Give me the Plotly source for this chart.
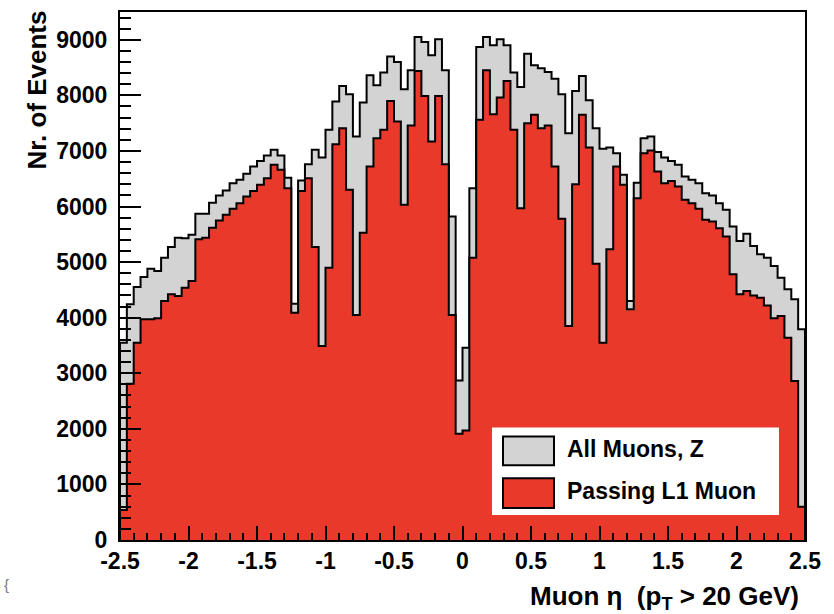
import numpy as np
import plotly.graph_objects as go

# Binning of the eta histogram
ETA_MIN, ETA_MAX, N_BINS = -2.5, 2.5, 100

# Events per bin: all reconstructed muons from Z decays
all_muons = [
    3550, 4240, 4550, 4730, 4880, 4840, 5080, 5270, 5440, 5430,
    5490, 5870, 5870, 6070, 6200, 6290, 6420, 6480, 6590, 6720,
    6820, 6920, 7020, 6920, 6520, 4250, 6470, 6760, 7020, 6880,
    7380, 7890, 8170, 8020, 7260, 7870, 8360, 8180, 8410, 8700,
    8600, 8110, 8450, 9050, 8960, 8720, 9010, 8450, 5820, 2870,
    3460, 6330, 8870, 9050, 8900, 9010, 8900, 8410, 8150, 8750,
    8540, 8490, 8420, 8300, 8020, 7320, 8080, 8350, 7910, 7410,
    7040, 7060, 6960, 6570, 4300, 6430, 7230, 7260, 6980, 6880,
    6820, 6750, 6540, 6480, 6420, 6240, 6200, 6060, 5940, 5640,
    5380, 5510, 5290, 5140, 5080, 4930, 4720, 4510, 4330, 3790,
]

# Events per bin: muons that also pass the L1 muon trigger
passing_l1 = [
    540, 2810, 3550, 3970, 3970, 3990, 4300, 4420, 4390, 4540,
    4660, 5410, 5440, 5620, 5750, 5850, 5960, 6060, 6180, 6280,
    6390, 6510, 6750, 6660, 6330, 4090, 6280, 6510, 5270, 3490,
    4900, 7120, 7410, 6300, 4050, 5530, 6720, 7230, 7380, 7900,
    7530, 6030, 7460, 8440, 7990, 7170, 7990, 6760, 4050, 1910,
    1970, 5080, 7560, 8450, 7660, 7960, 8260, 7380, 5970, 7500,
    7650, 7410, 7460, 6720, 5780, 3850, 6400, 7650, 7060, 4970,
    3550, 5230, 6720, 6390, 4150, 6150, 6960, 7010, 6630, 6420,
    6460, 6360, 6120, 6060, 5960, 5760, 5730, 5610, 5460, 4780,
    4420, 4480, 4400, 4360, 4220, 3990, 4030, 3640, 2860, 600,
]

x_tick_vals = [-2.5, -2, -1.5, -1, -0.5, 0, 0.5, 1, 1.5, 2, 2.5]
x_tick_text = ["-2.5", "-2", "-1.5", "-1", "-0.5", "0", "0.5", "1", "1.5", "2", "2.5"]
y_tick_vals = [0, 1000, 2000, 3000, 4000, 5000, 6000, 7000, 8000, 9000]
y_tick_text = ["0", "1000", "2000", "3000", "4000", "5000", "6000", "7000", "8000", "9000"]

series_names = ["All Muons, Z", "Passing L1 Muon"]
GRAY = "#d3d3d3"
RED = "#e8392a"

edges = np.linspace(ETA_MIN, ETA_MAX, N_BINS + 1)


def step_outline(values):
    """Histogram envelope: rises from zero at the first edge, drops to zero at the last."""
    xs = [edges[0]] + list(edges[:-1]) + [edges[-1], edges[-1]]
    ys = [0] + list(values) + [values[-1], 0]
    return xs, ys


fig = go.Figure()
for vals, name, colour in [(all_muons, series_names[0], GRAY),
                           (passing_l1, series_names[1], RED)]:
    xs, ys = step_outline(vals)
    fig.add_trace(go.Scatter(
        x=xs, y=ys, name=name, mode="lines", line_shape="hv",
        line=dict(color="black", width=2), fill="tozeroy", fillcolor=colour,
        hoverinfo="skip",
    ))

# Frame geometry in pixels (plot area)
W, H = 834, 614
L, R, T, B = 120, 805, 10, 540


def px(xp):
    return (xp - L) / (R - L)


def py(yp):
    return (B - yp) / (B - T)


FONT = "Liberation Sans, Arial, Helvetica, sans-serif"

shapes = [
    # legend box
    dict(type="rect", xref="paper", yref="paper", x0=px(492), x1=px(779),
         y0=py(515), y1=py(427), fillcolor="white", line=dict(width=0), layer="above"),
    dict(type="rect", xref="paper", yref="paper", x0=px(503), x1=px(554),
         y0=py(465), y1=py(436), fillcolor=GRAY, line=dict(color="black", width=2), layer="above"),
    dict(type="rect", xref="paper", yref="paper", x0=px(503), x1=px(554),
         y0=py(508), y1=py(478), fillcolor=RED, line=dict(color="black", width=2), layer="above"),
]

annotations = [
    dict(text=series_names[0], xref="paper", yref="paper", x=px(565), y=py(449),
         xanchor="left", yanchor="middle", showarrow=False,
         font=dict(family=FONT, size=23, weight="bold", color="black")),
    dict(text=series_names[1], xref="paper", yref="paper", x=px(565), y=py(491),
         xanchor="left", yanchor="middle", showarrow=False,
         font=dict(family=FONT, size=23, weight="bold", color="black")),
    dict(text="Muon η  (p<sub>T</sub> > 20 GeV)", xref="paper", yref="paper",
         x=px(801), y=py(598), xanchor="right", yanchor="middle", showarrow=False,
         font=dict(family=FONT, size=26, weight="bold", color="black")),
    dict(text="Nr. of Events", xref="paper", yref="paper", textangle=-90,
         x=px(37), y=py(7), xanchor="center", yanchor="top", showarrow=False,
         font=dict(family=FONT, size=26, weight="bold", color="black")),
    dict(text="{", xref="paper", yref="paper", x=px(6), y=py(585),
         xanchor="center", yanchor="middle", showarrow=False,
         font=dict(family=FONT, size=15, color="#777777")),
]

fig.update_layout(
    width=W, height=H,
    margin=dict(l=L, r=W - R, t=T, b=H - B, pad=0),
    paper_bgcolor="white", plot_bgcolor="white",
    showlegend=False,
    shapes=shapes, annotations=annotations,
    xaxis=dict(
        range=[ETA_MIN, ETA_MAX], tickmode="array", tickvals=x_tick_vals, ticktext=x_tick_text,
        ticks="inside", ticklen=14, tickwidth=1.5, tickcolor="black",
        minor=dict(dtick=0.1, tick0=ETA_MIN, ticks="inside", ticklen=7, tickwidth=1.5, tickcolor="black"),
        showline=True, mirror=True, linecolor="black", linewidth=2,
        showgrid=False, zeroline=False, ticklabelstandoff=-1,
        tickfont=dict(family=FONT, size=23, weight="bold", color="black"),
    ),
    yaxis=dict(
        range=[0, 9500], tickmode="array", tickvals=y_tick_vals, ticktext=y_tick_text,
        ticks="inside", ticklen=21, tickwidth=1.5, tickcolor="black",
        minor=dict(dtick=200, tick0=0, ticks="inside", ticklen=11, tickwidth=1.5, tickcolor="black"),
        showline=True, mirror=True, linecolor="black", linewidth=2,
        showgrid=False, zeroline=False, ticklabelstandoff=6,
        tickfont=dict(family=FONT, size=23, weight="bold", color="black"),
    ),
)

fig.write_html("out.html")
